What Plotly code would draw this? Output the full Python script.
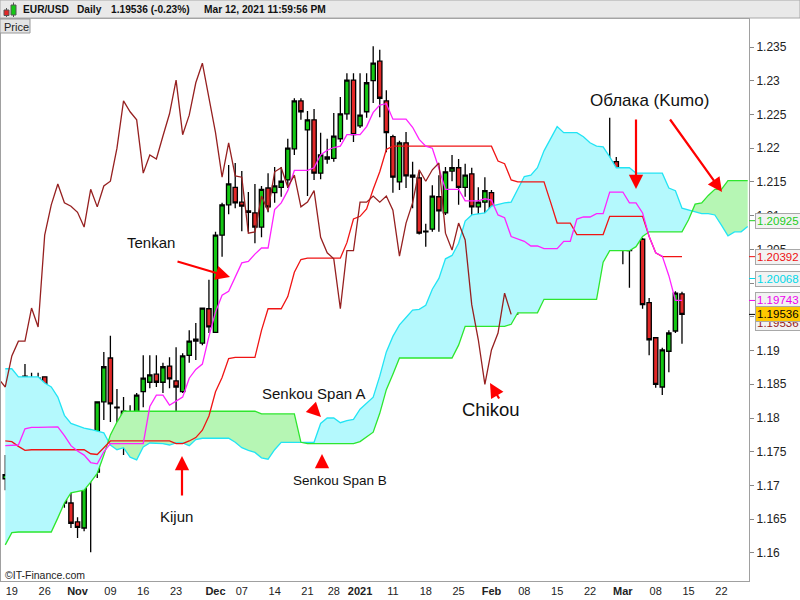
import pandas as pd
import plotly.graph_objects as go

FONT = "Liberation Sans, Arial, sans-serif"

# trading calendar: weekdays, market closed on 25 Dec and 1 Jan
days = [d for d in pd.bdate_range("2020-10-16", "2021-03-26")
        if d.strftime("%m-%d") not in ("12-25", "01-01")]
day_pos = {d.strftime("%Y-%m-%d"): i for i, d in enumerate(days)}

# EUR/USD daily candles, 16 Oct 2020 .. 12 Mar 2021
opens = [1.1710, 1.1717, 1.1766, 1.1824, 1.1859, 1.1821, 1.1861, 1.1810, 1.1787, 1.1745,
         1.1674, 1.1646, 1.1637, 1.1718, 1.1720, 1.1824, 1.1889, 1.1816, 1.1810, 1.1775,
         1.1804, 1.1839, 1.1853, 1.1865, 1.1853, 1.1877, 1.1855, 1.1839, 1.1893, 1.1917,
         1.1911, 1.1962, 1.1927, 1.2071, 1.2116, 1.2142, 1.2120, 1.2107, 1.2104, 1.2083,
         1.2141, 1.2134, 1.2142, 1.2153, 1.2199, 1.2270, 1.2227, 1.2242, 1.2163, 1.2187,
         1.2185, 1.2214, 1.2251, 1.2301, 1.2233, 1.2254, 1.2300, 1.2329, 1.2270, 1.2217,
         1.2150, 1.2208, 1.2160, 1.2156, 1.2077, 1.2080, 1.2128, 1.2104, 1.2166, 1.2171,
         1.2142, 1.2162, 1.2113, 1.2120, 1.2134, 1.2062, 1.2045, 1.2036, 1.1966, 1.2040,
         1.2049, 1.2117, 1.2119, 1.2129, 1.2126, 1.2132, 1.2108, 1.2042, 1.2095, 1.2122,
         1.2156, 1.2150, 1.2166, 1.2180, 1.2071, 1.2048, 1.2089, 1.2065, 1.1971, 1.1919,
         1.1846, 1.1899, 1.1929, 1.1984]
highs = [1.1745, 1.1794, 1.1834, 1.1880, 1.1867, 1.1867, 1.1862, 1.1824, 1.1788, 1.1760,
         1.1704, 1.1653, 1.1720, 1.1770, 1.1825, 1.1898, 1.1922, 1.1843, 1.1831, 1.1819,
         1.1837, 1.1893, 1.1893, 1.1893, 1.1882, 1.1890, 1.1905, 1.1896, 1.1930, 1.1941,
         1.1963, 1.2005, 1.2076, 1.2119, 1.2175, 1.2178, 1.2166, 1.2135, 1.2147, 1.2144,
         1.2163, 1.2172, 1.2172, 1.2214, 1.2274, 1.2274, 1.2255, 1.2258, 1.2223, 1.2214,
         1.2252, 1.2276, 1.2311, 1.2311, 1.2311, 1.2311, 1.2351, 1.2346, 1.2286, 1.2220,
         1.2211, 1.2224, 1.2180, 1.2165, 1.2088, 1.2145, 1.2160, 1.2172, 1.2190, 1.2184,
         1.2177, 1.2171, 1.2142, 1.2157, 1.2138, 1.2068, 1.2049, 1.2043, 1.2049, 1.2058,
         1.2123, 1.2145, 1.2148, 1.2145, 1.2145, 1.2171, 1.2111, 1.2097, 1.2145, 1.2171,
         1.2181, 1.2181, 1.2245, 1.2187, 1.2101, 1.2104, 1.2114, 1.2067, 1.1978, 1.1919,
         1.1904, 1.1930, 1.1988, 1.1987]
lows = [1.1693, 1.1702, 1.1759, 1.1821, 1.1810, 1.1787, 1.1802, 1.1782, 1.1716, 1.1667,
        1.1637, 1.1622, 1.1632, 1.1601, 1.1711, 1.1797, 1.1794, 1.1782, 1.1745, 1.1757,
        1.1787, 1.1816, 1.1844, 1.1846, 1.1837, 1.1844, 1.1800, 1.1837, 1.1882, 1.1886,
        1.1908, 1.1926, 1.1926, 1.2039, 1.2102, 1.2111, 1.2077, 1.2076, 1.2059, 1.2068,
        1.2105, 1.2119, 1.2128, 1.2141, 1.2190, 1.2242, 1.2129, 1.2153, 1.2154, 1.2177,
        1.2180, 1.2209, 1.2242, 1.2209, 1.2230, 1.2245, 1.2267, 1.2246, 1.2194, 1.2134,
        1.2138, 1.2141, 1.2111, 1.2072, 1.2054, 1.2076, 1.2076, 1.2101, 1.2151, 1.2116,
        1.2128, 1.2059, 1.2079, 1.2094, 1.2056, 1.2011, 1.2003, 1.1954, 1.1953, 1.2019,
        1.2046, 1.2091, 1.2113, 1.2082, 1.2111, 1.2097, 1.2024, 1.2036, 1.2083, 1.2091,
        1.2135, 1.2110, 1.2165, 1.2061, 1.2028, 1.1993, 1.2062, 1.1962, 1.1893, 1.1845,
        1.1834, 1.1868, 1.1926, 1.1910]
closes = [1.1716, 1.1767, 1.1824, 1.1862, 1.1821, 1.1859, 1.1809, 1.1787, 1.1745, 1.1674,
          1.1644, 1.1638, 1.1718, 1.1721, 1.1824, 1.1876, 1.1821, 1.1815, 1.1778, 1.1804,
          1.1834, 1.1859, 1.1864, 1.1853, 1.1876, 1.1858, 1.1846, 1.1892, 1.1914, 1.1914,
          1.1963, 1.1935, 1.2071, 1.2116, 1.2147, 1.2119, 1.2114, 1.2105, 1.2083, 1.2139,
          1.2113, 1.2144, 1.2151, 1.2200, 1.2270, 1.2254, 1.2242, 1.2163, 1.2190, 1.2184,
          1.2218, 1.2251, 1.2301, 1.2220, 1.2249, 1.2297, 1.2326, 1.2274, 1.2223, 1.2157,
          1.2208, 1.2159, 1.2157, 1.2074, 1.2076, 1.2129, 1.2107, 1.2165, 1.2171, 1.2142,
          1.2160, 1.2113, 1.2120, 1.2137, 1.2068, 1.2045, 1.2036, 1.1962, 1.2048, 1.2048,
          1.2120, 1.2120, 1.2129, 1.2120, 1.2129, 1.2108, 1.2040, 1.2089, 1.2119, 1.2168,
          1.2151, 1.2168, 1.2178, 1.2074, 1.2049, 1.2089, 1.2064, 1.1968, 1.1916, 1.1850,
          1.1901, 1.1926, 1.1985, 1.19536]

# Ichimoku lines (one value per trading day)
tenkan = [1.1759, 1.1760, 1.1760, 1.1784, 1.1786, 1.1786, 1.1786, 1.1787, 1.1787, 1.1774,
          1.1759, 1.1751, 1.1745, 1.1734, 1.1732, 1.1750, 1.1762, 1.1762, 1.1762, 1.1762,
          1.1762, 1.1762, 1.1817, 1.1834, 1.1834, 1.1819, 1.1825, 1.1831, 1.1859, 1.1872,
          1.1880, 1.1921, 1.1957, 1.1982, 1.1988, 1.2008, 1.2030, 1.2032, 1.2043, 1.2052,
          1.2052, 1.2109, 1.2119, 1.2137, 1.2167, 1.2167, 1.2167, 1.2171, 1.2190, 1.2197,
          1.2201, 1.2203, 1.2220, 1.2220, 1.2220, 1.2232, 1.2253, 1.2264, 1.2266, 1.2243,
          1.2243, 1.2243, 1.2231, 1.2213, 1.2203, 1.2200, 1.2170, 1.2139, 1.2139, 1.2139,
          1.2122, 1.2122, 1.2122, 1.2125, 1.2123, 1.2101, 1.2097, 1.2069, 1.2065, 1.2062,
          1.2055, 1.2055, 1.2051, 1.2051, 1.2051, 1.2062, 1.2062, 1.2095, 1.2098, 1.2098,
          1.2103, 1.2103, 1.2135, 1.2135, 1.2135, 1.2119, 1.2119, 1.2104, 1.2069, 1.2045,
          1.2040, 1.2011, 1.19743, 1.19743]
kijun = [1.1766, 1.1765, 1.1758, 1.1752, 1.1753, 1.1753, 1.1753, 1.1753, 1.1753, 1.1753,
         1.1753, 1.1753, 1.1753, 1.1747, 1.1746, 1.1756, 1.1766, 1.1766, 1.1766, 1.1766,
         1.1766, 1.1766, 1.1766, 1.1766, 1.1766, 1.1766, 1.1762, 1.1762, 1.1766, 1.1771,
         1.1782, 1.1803, 1.1839, 1.1860, 1.1888, 1.1890, 1.1890, 1.1890, 1.1890, 1.1930,
         1.1962, 1.1962, 1.1962, 1.1980, 1.2016, 1.2035, 1.2037, 1.2037, 1.2037, 1.2037,
         1.2037, 1.2037, 1.2060, 1.2095, 1.2099, 1.2110, 1.2139, 1.2165, 1.2198, 1.2203,
         1.2203, 1.2203, 1.2203, 1.2203, 1.2203, 1.2203, 1.2203, 1.2203, 1.2203, 1.2203,
         1.2203, 1.2203, 1.2203, 1.2203, 1.2203, 1.2181, 1.2177, 1.2153, 1.2150, 1.2150,
         1.2150, 1.2150, 1.2150, 1.2120, 1.2089, 1.2089, 1.2089, 1.2072, 1.2072, 1.2072,
         1.2072, 1.2072, 1.2099, 1.2099, 1.2099, 1.2099, 1.2099, 1.2099, 1.2069, 1.2045,
         1.20392, 1.20392, 1.20392, 1.20392]
# Senkou spans, already shifted 26 days ahead (runs to 26 Mar 2021)
senkou_a = [1.1873, 1.1873, 1.1861, 1.1861, 1.1861, 1.1861, 1.1852, 1.1846, 1.1831, 1.1804,
            1.1792, 1.1788, 1.1785, 1.1783, 1.1781, 1.1778, 1.1760, 1.1753, 1.1756, 1.1742,
            1.1738, 1.1757, 1.1763, 1.1763, 1.1762, 1.1760, 1.1763, 1.1763, 1.1759, 1.1768,
            1.1770, 1.1770, 1.1770, 1.1770, 1.1770, 1.1764, 1.1756, 1.1752, 1.1749, 1.1741,
            1.1739, 1.1753, 1.1764, 1.1764, 1.1764, 1.1764, 1.1764, 1.1764, 1.1792, 1.1800,
            1.1800, 1.1793, 1.1796, 1.1798, 1.1813, 1.1822, 1.1831, 1.1862, 1.1898, 1.1921,
            1.1938, 1.1949, 1.1960, 1.1961, 1.1967, 1.1991, 1.2007, 1.2036, 1.2041, 1.2059,
            1.2092, 1.2101, 1.2102, 1.2104, 1.2114, 1.2117, 1.2119, 1.2120, 1.2140, 1.2158,
            1.2160, 1.2171, 1.2196, 1.2215, 1.2232, 1.2223, 1.2223, 1.2223, 1.2217, 1.2208,
            1.2203, 1.2202, 1.2187, 1.2171, 1.2171, 1.2171, 1.2163, 1.2163, 1.2163, 1.2164,
            1.2163, 1.2141, 1.2137, 1.2111, 1.2108, 1.2106, 1.2103, 1.2103, 1.2101, 1.2086,
            1.2070, 1.2076, 1.2076, 1.2084]
senkou_b = [1.1612, 1.1630, 1.1631, 1.1631, 1.1631, 1.1631, 1.1631, 1.1631, 1.1652, 1.1674,
            1.1689, 1.1691, 1.1693, 1.1705, 1.1718, 1.1745, 1.1775, 1.1794, 1.1810, 1.1810,
            1.1810, 1.1810, 1.1810, 1.1810, 1.1810, 1.1810, 1.1810, 1.1810, 1.1810, 1.1810,
            1.1810, 1.1810, 1.1810, 1.1810, 1.1810, 1.1810, 1.1810, 1.1810, 1.1810, 1.1806,
            1.1806, 1.1806, 1.1806, 1.1806, 1.1806, 1.1764, 1.1762, 1.1762, 1.1762, 1.1762,
            1.1762, 1.1762, 1.1762, 1.1762, 1.1765, 1.1772, 1.1779, 1.1807, 1.1842, 1.1865,
            1.1889, 1.1889, 1.1889, 1.1889, 1.1889, 1.1889, 1.1889, 1.1889, 1.1889, 1.1908,
            1.1936, 1.1936, 1.1936, 1.1936, 1.1936, 1.1936, 1.1936, 1.1939, 1.1956, 1.1956,
            1.1956, 1.1956, 1.1976, 1.1976, 1.1976, 1.1976, 1.1976, 1.1976, 1.1976, 1.1976,
            1.1976, 1.2031, 1.2048, 1.2048, 1.2048, 1.2048, 1.2054, 1.2069, 1.2076, 1.2076,
            1.2076, 1.2076, 1.2076, 1.2076, 1.2094, 1.2117, 1.2119, 1.2130, 1.2139, 1.2139,
            1.2152, 1.2152, 1.2152, 1.2152]
CHIKOU_SHIFT = 26

# last-value tags on the price scale
tag_values = [1.20925, 1.20392, 1.20068, 1.19743]
tag_colors = ["#22cc22", "#ee1111", "#00d8e8", "#ee00ee"]
last_price = 1.19536

price_ticks = [1.16, 1.165, 1.17, 1.175, 1.18, 1.185, 1.19, 1.195,
               1.2, 1.205, 1.21, 1.215, 1.22, 1.225, 1.23, 1.235]
tick_days = ["2020-10-19", "2020-10-26", "2020-11-02", "2020-11-09", "2020-11-16",
             "2020-11-23", "2020-12-01", "2020-12-07", "2020-12-14", "2020-12-21",
             "2020-12-28", "2021-01-04", "2021-01-11", "2021-01-18", "2021-01-25",
             "2021-02-01", "2021-02-08", "2021-02-15", "2021-02-22", "2021-03-01",
             "2021-03-08", "2021-03-15", "2021-03-22"]
tick_labels = ["19", "26", "<b>Nov</b>", "09", "16", "23", "<b>Dec</b>", "07", "14", "21",
               "28", "<b>2021</b>", "11", "18", "25", "<b>Feb</b>", "08", "15", "22",
               "<b>Mar</b>", "08", "15", "22"]

CYAN_FILL, GREEN_FILL = "#b4f9fd", "#b6f6b4"
CYAN_LINE, GREEN_LINE = "#22e4f4", "#2ee62e"

# plot area is x 1..749 px, y 19..581 px of the 800x600 page
def px(x):
    return (x - 1) / 748.0


def py(y):
    return (581 - y) / 562.0


def cloud_pieces(a, b):
    # split the kumo where the spans cross so each part gets its own colour
    pieces = []
    xs, ya, yb = [0], [a[0]], [b[0]]
    up = a[0] >= b[0]
    for k in range(1, len(a)):
        now = a[k] >= b[k]
        if now != up:
            d0, d1 = a[k - 1] - b[k - 1], a[k] - b[k]
            t = d0 / (d0 - d1)
            xc = k - 1 + t
            yc = a[k - 1] + t * (a[k] - a[k - 1])
            xs.append(xc); ya.append(yc); yb.append(yc)
            pieces.append((up, xs, ya, yb))
            xs, ya, yb = [xc], [yc], [yc]
            up = now
        xs.append(k); ya.append(a[k]); yb.append(b[k])
    pieces.append((up, xs, ya, yb))
    return pieces


fig = go.Figure()

for up, xs, ya, yb in cloud_pieces(senkou_a, senkou_b):
    fig.add_trace(go.Scatter(x=xs + xs[::-1], y=ya + yb[::-1], fill="toself",
                             fillcolor=CYAN_FILL if up else GREEN_FILL,
                             line=dict(width=0), mode="lines", hoverinfo="skip"))

kx = list(range(len(senkou_a)))
fig.add_trace(go.Scatter(x=kx, y=senkou_a, mode="lines", line=dict(color=CYAN_LINE, width=1.3)))
fig.add_trace(go.Scatter(x=kx, y=senkou_b, mode="lines", line=dict(color=GREEN_LINE, width=1.3)))

cx = list(range(len(closes)))
fig.add_trace(go.Scatter(x=cx, y=kijun, mode="lines", line=dict(color="#f01414", width=1.3)))
fig.add_trace(go.Scatter(x=cx, y=tenkan, mode="lines", line=dict(color="#ff22ff", width=1.3)))
fig.add_trace(go.Scatter(x=[i - CHIKOU_SHIFT for i in cx], y=closes, mode="lines",
                         line=dict(color="#962020", width=1.3)))

fig.add_trace(go.Candlestick(
    x=cx, open=opens, high=highs, low=lows, close=closes,
    increasing=dict(fillcolor="#14c814", line=dict(color="black", width=1.3)),
    decreasing=dict(fillcolor="#e22828", line=dict(color="black", width=1.3)),
    whiskerwidth=0, hoverinfo="skip"))

shapes = [
    # title bar
    dict(type="rect", xref="paper", yref="paper", x0=px(0), x1=px(800), y0=py(18), y1=py(0),
         fillcolor="#e9e9e9", line=dict(color="#a8a8a8", width=1), layer="above"),
    # "Price" tab
    dict(type="rect", xref="paper", yref="paper", x0=px(0), x1=px(30), y0=py(33), y1=py(19),
         fillcolor="#e4e4e4", line=dict(color="#9a9a9a", width=1), layer="above"),
    # little candle icon in the title bar
    dict(type="line", xref="paper", yref="paper", x0=px(6.5), x1=px(6.5), y0=py(17), y1=py(8),
         line=dict(color="#555", width=1), layer="above"),
    dict(type="rect", xref="paper", yref="paper", x0=px(4), x1=px(9), y0=py(15.5), y1=py(10),
         fillcolor="#e22828", line=dict(color="#555", width=1), layer="above"),
    dict(type="line", xref="paper", yref="paper", x0=px(13.5), x1=px(13.5), y0=py(17), y1=py(2.5),
         line=dict(color="#555", width=1), layer="above"),
    dict(type="rect", xref="paper", yref="paper", x0=px(11), x1=px(16), y0=py(15), y1=py(5),
         fillcolor="#14c814", line=dict(color="#555", width=1), layer="above"),
]
for v, c in zip(tag_values + [last_price], tag_colors + ["#000000"]):
    shapes.append(dict(type="line", xref="paper", yref="y", x0=px(749), x1=px(755), y0=v, y1=v,
                       line=dict(color=c, width=1)))

annotations = []
header = [(21, "EUR/USD"), (75, "Daily"), (109, "1.19536 (-0.23%)"),
          (202, "Mar 12, 2021 11:59:56 PM")]
for x, t in header:
    annotations.append(dict(xref="paper", yref="paper", x=px(x), y=py(9.5), xanchor="left",
                            yanchor="middle", text="<b>%s</b>" % t, showarrow=False,
                            font=dict(family=FONT, size=10.2, color="#111")))
annotations.append(dict(xref="paper", yref="paper", x=px(2), y=py(26.5), xanchor="left",
                        yanchor="middle", text="Price", showarrow=False,
                        font=dict(family=FONT, size=11, color="#222")))
annotations.append(dict(xref="paper", yref="paper", x=px(3), y=py(575), xanchor="left",
                        yanchor="middle", text="©IT-Finance.com", showarrow=False,
                        font=dict(family=FONT, size=10.5, color="#222")))

labels = [("Tenkan", 151, 242, 15), ("Kijun", 176, 516, 15), ("Senkou Span A", 313, 393, 15),
          ("Senkou Span B", 340, 480, 13.5), ("Chikou", 491, 409, 18.5),
          ("Облака (Kumo)", 649, 101, 17)]
for t, x, y, s in labels:
    annotations.append(dict(xref="paper", yref="paper", x=px(x), y=py(y), text=t,
                            showarrow=False, xanchor="center", yanchor="middle",
                            font=dict(family=FONT, size=s, color="#111")))

# red pointer arrows: head position, then tail offset in pixels
arrows = [(230, 277, -54, -16), (182, 456, 0, 41), (321, 417, -10, -10), (322, 454, 0, 13),
          (490, 383, 10, 17), (636, 189, 0, -71), (722, 192, -53, -74)]
for x, y, ax, ay in arrows:
    annotations.append(dict(xref="paper", yref="paper", x=px(x), y=py(y), ax=ax, ay=ay,
                            text="", showarrow=True, arrowhead=2, arrowsize=1.3,
                            arrowwidth=2.2, arrowcolor="#ff0000", standoff=0))

# value tags on the right scale
for v, c in zip(tag_values, tag_colors):
    annotations.append(dict(xref="paper", yref="y", x=px(755), y=v, xanchor="left",
                            yanchor="middle", text="%.5f" % v, showarrow=False,
                            font=dict(family=FONT, size=11.5, color=c), bgcolor="#f2f2f2",
                            bordercolor="#a8a8a8", borderwidth=1, borderpad=1))
annotations.append(dict(xref="paper", yref="y", x=px(755), y=last_price, yshift=-9,
                        xanchor="left", yanchor="middle", text="%.5f" % last_price,
                        showarrow=False, font=dict(family=FONT, size=11.5, color="#962020"),
                        bgcolor="#f2f2f2", bordercolor="#a8a8a8", borderwidth=1, borderpad=1))
annotations.append(dict(xref="paper", yref="y", x=px(755), y=last_price, xanchor="left",
                        yanchor="middle", text="%.5f" % last_price, showarrow=False,
                        font=dict(family=FONT, size=11.5, color="#000"), bgcolor="#ffc800",
                        bordercolor="#a8a8a8", borderwidth=1, borderpad=1))

fig.update_layout(
    width=800, height=600,
    margin=dict(l=1, r=51, t=19, b=19),
    paper_bgcolor="white", plot_bgcolor="white",
    showlegend=False,
    font=dict(family=FONT),
    boxgap=0.34, boxgroupgap=0,
    shapes=shapes,
    annotations=annotations,
    xaxis=dict(range=[-0.65, 113.2], tickmode="array",
               tickvals=[day_pos[d] for d in tick_days], ticktext=tick_labels,
               ticks="", showgrid=False, zeroline=False, showline=True,
               linecolor="#a0a0a0", mirror=True, rangeslider=dict(visible=False),
               tickfont=dict(family=FONT, size=11, color="#222")),
    yaxis=dict(side="right", range=[1.15584, 1.23915], tickmode="array",
               tickvals=price_ticks, ticktext=["%g" % v for v in price_ticks],
               ticks="outside", ticklen=4, tickcolor="#888", showgrid=False,
               zeroline=False, showline=True, linecolor="#a0a0a0", mirror=True,
               tickfont=dict(family=FONT, size=12, color="#222")),
)

# the page body has a default 8px margin; drop it so the chart fills the window
fig.write_html("out.html", config={"displayModeBar": False},
               post_script="document.body.style.margin = '0px';")
